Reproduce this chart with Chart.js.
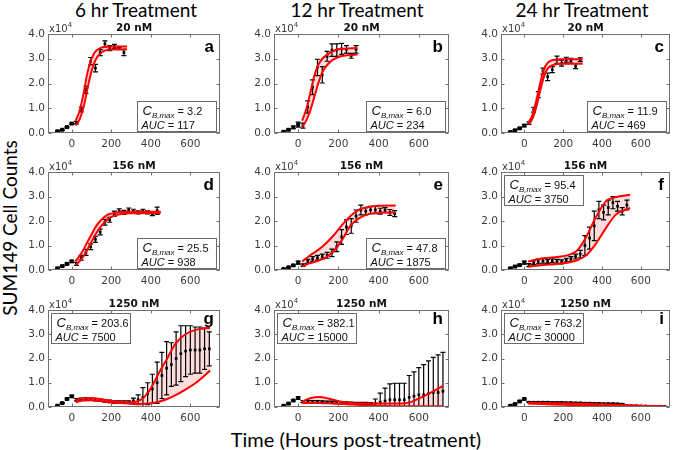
<!DOCTYPE html>
<html>
<head>
<meta charset="utf-8">
<script src="https://cdn.jsdelivr.net/npm/chart.js@4.4.1/dist/chart.umd.min.js"></script>
<style>
  body { margin: 0; width: 675px; height: 450px; background: #fff; position: relative; overflow: hidden; font-family: Lato, sans-serif; }
  canvas { position: absolute; }
  .col-title { position: absolute; top: 0; font-size: 19px; line-height: 19px; color: #000; white-space: nowrap; transform: translateX(-50%); }
  #ylabel { position: absolute; left: 9px; top: 228px; font-size: 19px; line-height: 19px; white-space: nowrap; transform: translate(-50%, -50%) rotate(-90deg); }
  #xlabel { position: absolute; left: 356px; top: 429px; font-size: 20px; line-height: 20px; white-space: nowrap; transform: translateX(-50%); }
</style>
</head>
<body>
<div id="ylabel">SUM149 Cell Counts</div>
<div id="xlabel">Time (Hours post-treatment)</div>
<script>
// sample times (hours), shared by every panel
const hours = [-72, -48, -24, 0, 24, 48, 72, 96, 120, 144, 168, 192, 216, 240, 264, 288, 312,
  336, 360, 384, 408, 432, 456, 480, 504, 528, 552, 576, 600, 624, 648, 672, 696, 720];

// cell counts (x10^4): mean and error per panel
const meanA = [0.07, 0.13, 0.24, 0.38, 0.42, 0.95, 1.75, 2.9, 2.62, 3.25, 3.6, 3.43, 3.5, 3.42, 3.25];
const errA = [0.02, 0.02, 0.02, 0.03, 0.05, 0.1, 0.15, 0.15, 0.15, 0.12, 0.12, 0.1, 0.08, 0.05, 0.12];
const meanB = [0.05, 0.13, 0.23, 0.34, 0.3, 1.05, 1.85, 2.65, 2.35, 3.1, 3.35, 3.35, 3.4, 3.38, 3.12, 3.38];
const errB = [0.02, 0.03, 0.05, 0.1, 0.1, 0.25, 0.3, 0.33, 0.33, 0.2, 0.25, 0.25, 0.22, 0.15, 0.1, 0.15];
const meanC = [0.04, 0.11, 0.19, 0.3, 0.4, 0.94, 1.55, 2.5, 2.27, 2.56, 2.96, 2.82, 2.96, 2.92, 2.7, 2.96];
const errC = [0.02, 0.02, 0.03, 0.04, 0.05, 0.1, 0.12, 0.12, 0.15, 0.12, 0.15, 0.12, 0.1, 0.1, 0.1, 0.08];
const meanD = [0.07, 0.16, 0.25, 0.35, 0.25, 0.5, 0.72, 0.95, 1.25, 1.55, 1.95, 2.05, 2.3, 2.42, 2.35,
  2.45, 2.4, 2.35, 2.4, 2.35, 2.3, 2.42];
const errD = [0.02, 0.02, 0.03, 0.04, 0.06, 0.1, 0.12, 0.12, 0.12, 0.12, 0.12, 0.1, 0.1, 0.08, 0.08,
  0.08, 0.08, 0.06, 0.08, 0.06, 0.08, 0.15];
const meanE = [0.04, 0.11, 0.19, 0.3, 0.2, 0.35, 0.45, 0.5, 0.55, 0.6, 0.7, 0.95, 1.35, 1.75, 1.8,
  2.2, 2.45, 2.4, 2.45, 2.45, 2.4, 2.45, 2.35, 2.3];
const errE = [0.02, 0.02, 0.03, 0.06, 0.05, 0.08, 0.1, 0.1, 0.1, 0.12, 0.15, 0.2, 0.3, 0.3, 0.3,
  0.25, 0.2, 0.15, 0.15, 0.15, 0.12, 0.1, 0.12, 0.12];
const meanF = [0.07, 0.14, 0.2, 0.3, 0.2, 0.3, 0.35, 0.38, 0.35, 0.38, 0.35, 0.33, 0.4, 0.45, 0.55,
  0.65, 1.0, 1.3, 1.8, 2.45, 2.35, 2.55, 2.75, 2.6, 2.4, 2.65];
const errF = [0.02, 0.02, 0.03, 0.06, 0.06, 0.08, 0.1, 0.1, 0.08, 0.08, 0.08, 0.08, 0.08, 0.1, 0.1,
  0.15, 0.4, 0.45, 0.6, 0.35, 0.3, 0.3, 0.25, 0.2, 0.15, 0.2];
const meanG = [0.05, 0.16, 0.33, 0.44, 0.3, 0.32, 0.33, 0.32, 0.3, 0.28, 0.25, 0.23, 0.2, 0.2, 0.2,
  0.2, 0.25, 0.3, 0.4, 0.55, 0.75, 1.0, 1.3, 1.6, 1.75, 2.0, 2.2, 2.3, 2.35, 2.35, 2.35, 2.4, 2.4];
const errG = [0.02, 0.02, 0.03, 0.04, 0.05, 0.05, 0.05, 0.05, 0.05, 0.05, 0.05, 0.05, 0.05, 0.05, 0.05,
  0.05, 0.12, 0.2, 0.4, 0.45, 0.6, 0.85, 0.95, 1.1, 0.9, 1.1, 1.15, 1.05, 1.0, 0.95, 0.95, 0.85, 0.7];
const meanH = [0.05, 0.14, 0.27, 0.37, 0.22, 0.22, 0.22, 0.22, 0.21, 0.2, 0.2, 0.19, 0.18, 0.17, 0.16,
  0.15, 0.15, 0.15, 0.14, 0.15, 0.2, 0.25, 0.3, 0.3, 0.3, 0.3, 0.4, 0.45, 0.5, 0.5, 0.55, 0.6, 0.6, 0.65];
const errH = [0.02, 0.02, 0.03, 0.05, 0.04, 0.04, 0.04, 0.04, 0.04, 0.04, 0.04, 0.04, 0.04, 0.04, 0.04,
  0.04, 0.04, 0.04, 0.04, 0.18, 0.37, 0.53, 0.65, 0.68, 0.68, 0.68, 0.9, 1.0, 1.12, 1.25, 1.35, 1.45, 1.55, 1.6];
const meanI = [0.05, 0.12, 0.23, 0.33, 0.2, 0.2, 0.2, 0.2, 0.2, 0.19, 0.19, 0.19, 0.18, 0.18, 0.17,
  0.17, 0.16, 0.16, 0.15, 0.15, 0.14, 0.14, 0.14, 0.13, 0.12, 0.06, 0.05, 0.05, 0.04, 0.04, 0.03, 0.03, 0.03, 0.02];
const errI = [0.02, 0.02, 0.03, 0.03, 0.02, 0.02, 0.02, 0.02, 0.02, 0.02, 0.02, 0.02, 0.02, 0.02, 0.02,
  0.02, 0.02, 0.02, 0.02, 0.02, 0.02, 0.02, 0.02, 0.02, 0.02, 0.02, 0.02, 0.02, 0.02, 0.02, 0.02, 0.02, 0.02, 0.02];

// model bounds (upper / lower red curves)
const fitTA = [20, 40, 60, 80, 100, 120, 150, 200, 280];
const fitHiA = [0.5, 0.9, 1.6, 2.45, 3.0, 3.3, 3.45, 3.5, 3.5];
const fitLoA = [0.3, 0.55, 1.05, 1.8, 2.5, 2.95, 3.25, 3.37, 3.38];
const fitTB = [20, 40, 60, 80, 100, 120, 150, 200, 295];
const fitHiB = [0.5, 0.95, 1.6, 2.3, 2.75, 3.0, 3.2, 3.38, 3.43];
const fitLoB = [0.25, 0.5, 0.9, 1.45, 2.0, 2.45, 2.8, 3.07, 3.17];
const fitTC = [20, 40, 60, 80, 100, 120, 150, 200, 300];
const fitHiC = [0.42, 0.68, 1.25, 1.95, 2.55, 2.83, 2.95, 2.98, 2.98];
const fitLoC = [0.35, 0.55, 1.0, 1.65, 2.25, 2.6, 2.75, 2.8, 2.8];
const fitTD = [20, 50, 80, 100, 120, 150, 180, 200, 250, 300, 450];
const fitHiD = [0.35, 0.7, 1.15, 1.45, 1.75, 2.05, 2.25, 2.3, 2.37, 2.38, 2.38];
const fitLoD = [0.2, 0.45, 0.85, 1.15, 1.45, 1.8, 2.05, 2.17, 2.28, 2.32, 2.33];
const fitTE = [20, 60, 100, 140, 180, 220, 260, 300, 350, 400, 485];
const fitHiE = [0.35, 0.6, 0.82, 1.1, 1.45, 1.85, 2.2, 2.45, 2.57, 2.62, 2.63];
const fitLoE = [0.15, 0.28, 0.38, 0.52, 0.8, 1.25, 1.8, 2.1, 2.28, 2.34, 2.35];
const fitTF = [20, 100, 190, 240, 275, 320, 370, 420, 470, 545];
const fitHiF = [0.35, 0.48, 0.55, 0.65, 0.82, 1.37, 2.18, 2.8, 2.97, 3.07];
const fitLoF = [0.14, 0.2, 0.27, 0.33, 0.41, 0.61, 1.09, 1.71, 2.25, 2.53];
const fitTG = [20, 60, 100, 150, 200, 250, 300, 340, 390, 440, 483, 525, 575, 625, 700];
const fitHiG = [0.28, 0.36, 0.37, 0.32, 0.25, 0.21, 0.2, 0.25, 0.64, 1.39, 2.0, 2.61, 3.0, 3.18, 3.27];
const fitLoG = [0.2, 0.27, 0.28, 0.24, 0.19, 0.16, 0.13, 0.12, 0.14, 0.22, 0.33, 0.49, 0.72, 0.98, 1.5];
const fitTH = [20, 60, 106, 150, 187, 230, 268, 350, 431, 512, 560, 600, 650, 685, 720];
const fitHiH = [0.23, 0.36, 0.41, 0.35, 0.27, 0.2, 0.16, 0.14, 0.14, 0.14, 0.2, 0.35, 0.55, 0.71, 0.87];
const fitLoH = [0.17, 0.17, 0.16, 0.15, 0.13, 0.12, 0.1, 0.06, 0.04, 0.03, 0.03, 0.03, 0.03, 0.03, 0.03];
const fitTI = [20, 100, 200, 300, 400, 500, 600, 730];
const fitHiI = [0.18, 0.17, 0.15, 0.13, 0.11, 0.08, 0.05, 0.03];
const fitLoI = [0.14, 0.12, 0.09, 0.07, 0.05, 0.03, 0.02, 0.01];

const columnTitles = ["6 hr Treatment", "12 hr Treatment", "24 hr Treatment"];
const doseLabels = ["20 nM", "156 nM", "1250 nM"];
const panelLetters = ["a", "b", "c", "d", "e", "f", "g", "h", "i"];
const cbMax = ["3.2", "6.0", "11.9", "25.5", "47.8", "95.4", "203.6", "382.1", "763.2"];
const aucValues = ["117", "234", "469", "938", "1875", "3750", "7500", "15000", "30000"];
const xTicks = [0, 200, 400, 600];
const yTicks = [0, 1, 2, 3, 4];
const yTickLabels = ["0.0", "1.0", "2.0", "3.0", "4.0"];

const panels = [
  { mean: meanA, err: errA, fitT: fitTA, hi: fitHiA, lo: fitLoA },
  { mean: meanB, err: errB, fitT: fitTB, hi: fitHiB, lo: fitLoB },
  { mean: meanC, err: errC, fitT: fitTC, hi: fitHiC, lo: fitLoC },
  { mean: meanD, err: errD, fitT: fitTD, hi: fitHiD, lo: fitLoD },
  { mean: meanE, err: errE, fitT: fitTE, hi: fitHiE, lo: fitLoE },
  { mean: meanF, err: errF, fitT: fitTF, hi: fitHiF, lo: fitLoF },
  { mean: meanG, err: errG, fitT: fitTG, hi: fitHiG, lo: fitLoG },
  { mean: meanH, err: errH, fitT: fitTH, hi: fitHiH, lo: fitLoH },
  { mean: meanI, err: errI, fitT: fitTI, hi: fitHiI, lo: fitLoI },
];

// layout (pixels)
const colLeft = [48, 274, 501];
const colWidth = [173, 176, 170];
const colTitleX = [136, 357, 582];
const rowTop = [34, 172, 310];
const rowHeight = [99, 98, 97];
const AXIS_W = 40, AXIS_H = 22, PAD_TOP = 22, PAD_RIGHT = 3;
const FRAME = "#707070";

columnTitles.forEach((t, c) => {
  const d = document.createElement("div");
  d.className = "col-title";
  d.style.left = colTitleX[c] + "px";
  d.textContent = t;
  document.body.appendChild(d);
});

const panelDecor = {
  id: "panelDecor",
  beforeDatasetDraw(chart, args, opts) {
    if (args.index !== 2) return;
    const p = panels[opts.k];
    const { ctx, chartArea: a } = chart;
    const x = chart.scales.x, y = chart.scales.y;
    ctx.save();
    ctx.beginPath();
    ctx.rect(a.left, a.top, a.right - a.left, a.bottom - a.top);
    ctx.clip();
    ctx.strokeStyle = "#000";
    ctx.lineWidth = 1.2;
    p.mean.forEach((m, i) => {
      const e = p.err[i];
      const px = x.getPixelForValue(hours[i]);
      const y1 = y.getPixelForValue(m - e);
      const y2 = y.getPixelForValue(m + e);
      ctx.beginPath();
      ctx.moveTo(px, y1); ctx.lineTo(px, y2);
      ctx.moveTo(px - 2.5, y1); ctx.lineTo(px + 2.5, y1);
      ctx.moveTo(px - 2.5, y2); ctx.lineTo(px + 2.5, y2);
      ctx.stroke();
    });
    ctx.restore();
  },
  afterDraw(chart, args, opts) {
    const k = opts.k, row = Math.floor(k / 3);
    const { ctx, chartArea: a } = chart;
    const x = chart.scales.x, y = chart.scales.y;
    const L = Math.round(a.left) + 0.5, T = Math.round(a.top) + 0.5;
    const R = Math.round(a.right) - 0.5, B = Math.round(a.bottom) - 0.5;
    ctx.save();
    // frame + inward ticks
    ctx.strokeStyle = FRAME;
    ctx.lineWidth = 1;
    ctx.strokeRect(L, T, R - L, B - T);
    ctx.beginPath();
    xTicks.forEach((v) => {
      const px = Math.round(x.getPixelForValue(v)) + 0.5;
      ctx.moveTo(px, B); ctx.lineTo(px, B - 3);
      ctx.moveTo(px, T); ctx.lineTo(px, T + 3);
    });
    yTicks.forEach((v) => {
      const py = Math.round(y.getPixelForValue(v)) + 0.5;
      ctx.moveTo(L, py); ctx.lineTo(L + 3, py);
      ctx.moveTo(R, py); ctx.lineTo(R - 3, py);
    });
    ctx.stroke();

    // dose title
    ctx.fillStyle = "#111";
    ctx.font = 'bold 10.5px "DejaVu Sans"';
    ctx.textAlign = "center";
    ctx.textBaseline = "alphabetic";
    ctx.fillText(doseLabels[row], (a.left + a.right) / 2, a.top - 3);

    // x10^4 multiplier
    ctx.fillStyle = "#3c3c3c";
    ctx.textAlign = "left";
    ctx.font = '10px "DejaVu Sans"';
    ctx.fillText("x10", a.left + 1, a.top - 2);
    const w10 = ctx.measureText("x10").width;
    ctx.font = '7px "DejaVu Sans"';
    ctx.fillText("4", a.left + 1 + w10, a.top - 7);

    // panel letter
    ctx.fillStyle = "#000";
    ctx.font = 'bold 17px "Liberation Sans"';
    ctx.textAlign = "right";
    ctx.fillText(panelLetters[k], a.right - 6, a.top + (row === 2 ? 14 : 18));

    // annotation box
    const bw = 79, bh = 30;
    let bx, by;
    if (k >= 5) { bx = L + 2; by = T + 2; }
    else { bx = R - 4 - bw; by = B - 2 - bh; }
    bx = Math.round(bx) + 0.5; by = Math.round(by) + 0.5;
    ctx.fillStyle = "#fff";
    ctx.fillRect(bx, by, bw, bh);
    ctx.strokeStyle = "#6a6a6a";
    ctx.strokeRect(bx, by, bw, bh);
    ctx.fillStyle = "#111";
    ctx.textAlign = "left";
    let tx = bx + 5;
    ctx.font = 'italic 13px "Liberation Sans"';
    ctx.fillText("C", tx, by + 13);
    tx += ctx.measureText("C").width;
    ctx.font = 'italic 8px "Liberation Sans"';
    ctx.fillText("B,max", tx, by + 16);
    tx += ctx.measureText("B,max").width;
    ctx.font = '11px "Liberation Sans"';
    ctx.fillText(" = " + cbMax[k], tx, by + 13);
    tx = bx + 4;
    ctx.font = 'italic 11px "Liberation Sans"';
    ctx.fillText("AUC", tx, by + 27);
    tx += ctx.measureText("AUC").width;
    ctx.font = '11px "Liberation Sans"';
    ctx.fillText(" = " + aucValues[k], tx, by + 27);
    ctx.restore();
  },
};

function makePanel(k) {
  const row = Math.floor(k / 3), col = k % 3;
  const p = panels[k];
  const canvas = document.createElement("canvas");
  const w = colWidth[col] + AXIS_W + PAD_RIGHT;
  const h = rowHeight[row] + PAD_TOP + AXIS_H;
  canvas.width = w; canvas.height = h;
  canvas.style.left = (colLeft[col] - AXIS_W) + "px";
  canvas.style.top = (rowTop[row] - PAD_TOP) + "px";
  canvas.style.width = w + "px"; canvas.style.height = h + "px";
  document.body.appendChild(canvas);

  const tickFont = { family: "DejaVu Sans", size: 10.5 };
  new Chart(canvas.getContext("2d"), {
    type: "scatter",
    data: {
      datasets: [
        {
          data: p.fitT.map((t, i) => ({ x: t, y: p.hi[i] })),
          showLine: true, borderColor: "#ff0000", borderWidth: 2, pointRadius: 0,
          cubicInterpolationMode: "monotone", fill: false, order: 0,
        },
        {
          data: p.fitT.map((t, i) => ({ x: t, y: p.lo[i] })),
          showLine: true, borderColor: "#ff0000", borderWidth: 2, pointRadius: 0,
          cubicInterpolationMode: "monotone", fill: "-1",
          backgroundColor: "rgba(240,80,80,0.2)", order: 0,
        },
        {
          data: p.mean.map((m, i) => ({ x: hours[i], y: m })),
          showLine: false, pointStyle: "rect", borderWidth: 0,
          pointRadius: (c) => (hours[c.dataIndex] <= 0 ? 2.8 : 1.9),
          backgroundColor: "#000", order: 1,
        },
      ],
    },
    options: {
      responsive: false,
      animation: false,
      events: [],
      layout: { padding: { top: PAD_TOP, right: PAD_RIGHT, left: 0, bottom: 0 } },
      plugins: {
        legend: { display: false },
        tooltip: { enabled: false },
        filler: { drawTime: "beforeDatasetsDraw" },
        panelDecor: { k },
      },
      scales: {
        x: {
          type: "linear", min: -120, max: 750,
          afterFit: (s) => { s.height = AXIS_H; },
          afterBuildTicks: (s) => { s.ticks = xTicks.map((v) => ({ value: v })); },
          grid: { display: false, drawTicks: false },
          border: { display: false },
          ticks: { color: "#3c3c3c", font: tickFont, padding: 5, maxRotation: 0, autoSkip: false },
        },
        y: {
          type: "linear", min: 0, max: 4,
          afterFit: (s) => { s.width = AXIS_W; },
          afterBuildTicks: (s) => { s.ticks = yTicks.map((v) => ({ value: v })); },
          grid: { display: false, drawTicks: false },
          border: { display: false },
          ticks: {
            color: "#3c3c3c", font: tickFont, padding: 3, autoSkip: false,
            callback: (v) => yTickLabels[yTicks.indexOf(v)],
          },
        },
      },
    },
    plugins: [panelDecor],
  });
}

for (let k = 0; k < 9; k++) makePanel(k);
</script>
</body>
</html>
